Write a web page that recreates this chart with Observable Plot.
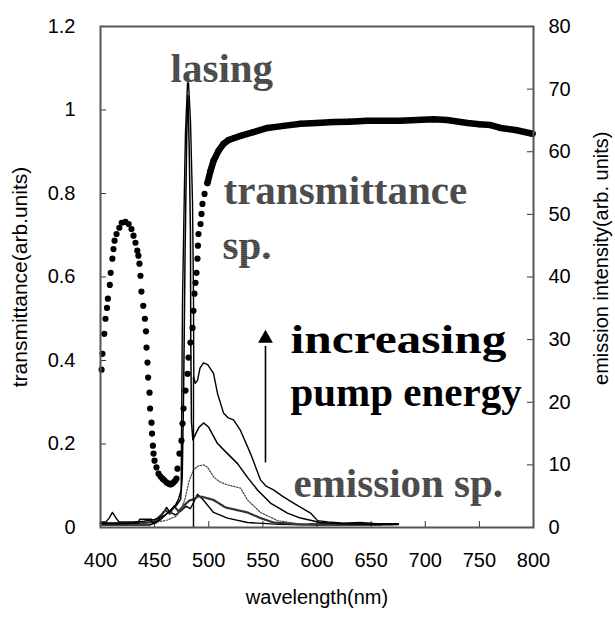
<!DOCTYPE html>
<html><head><meta charset="utf-8">
<script src="https://cdn.jsdelivr.net/npm/d3@7"></script>
<script src="https://cdn.jsdelivr.net/npm/@observablehq/plot@0.6"></script>
<style>html,body{margin:0;padding:0;background:#fff}#chart svg{display:block}</style>
</head><body><div id="chart"></div>
<script>
// ---- axis ticks / labels ----
const wavelengthTicks = [400, 450, 500, 550, 600, 650, 700, 750, 800];
const transTicks = [0, 0.2, 0.4, 0.6, 0.8, 1, 1.2];
const transTickLabels = ["0", "0.2", "0.4", "0.6", "0.8", "1", "1.2"];
const emisTicks = [0, 10, 20, 30, 40, 50, 60, 70, 80];
const emisTickLabels = ["0", "10", "20", "30", "40", "50", "60", "70", "80"];

// ---- transmittance spectrum [nm, transmittance] ----
const transmittance = [
[401.0,0.378],[401.8,0.416],[403.5,0.464],[404.6,0.50],[406.0,0.526],[406.8,0.548],[408.6,0.581],[409.4,0.610],
[411.0,0.644],[412.0,0.667],[413.0,0.687],[414.8,0.703],[417.4,0.718],[419.6,0.730],[423.0,0.732],[426.0,0.727],
[428.6,0.715],[430.5,0.699],[432.3,0.682],[434.0,0.663],[435.0,0.651],[436.0,0.632],[436.9,0.603],[437.8,0.565],
[439.5,0.531],[441.0,0.500],[442.0,0.470],[442.5,0.431],[443.4,0.395],[444.0,0.359],[445.3,0.323],[445.8,0.285],
[447.1,0.251],[447.6,0.225],[448.4,0.196],[449.0,0.177],[449.9,0.160],[451.7,0.144],[453.6,0.129],[455.5,0.122],
[457.3,0.117],[459.0,0.113],[461.0,0.108],[463.0,0.105],[464.7,0.103],[466.0,0.105],[467.4,0.108],[469.0,0.112],
[470.2,0.117],[471.1,0.141],[472.9,0.177],[474.8,0.208],[475.8,0.249],[476.7,0.285],[478.5,0.328],[480.4,0.368],
[481.3,0.407],[483.1,0.443],[485.0,0.478],[485.9,0.519],[486.8,0.560],[487.8,0.586],[488.7,0.610],[489.6,0.644],
[490.0,0.675],[490.5,0.703],[492.4,0.727],[493.3,0.751],[494.2,0.775],[496.1,0.799],[498.8,0.825],[501.6,0.854],
[504.4,0.878],[509.0,0.902],[513.6,0.919],[518.2,0.928],[523.7,0.933],[529.3,0.938],[541.3,0.947],[554.3,0.957],
[569.1,0.962],[584.8,0.967],[600,0.969],[615.2,0.971],[630,0.972],[646.7,0.974],[662,0.974],[677.1,0.974],
[692,0.976],[707.6,0.978],[720,0.976],[739.0,0.969],[750,0.966],[760.3,0.964],[769.5,0.957],[783.4,0.952],[799.1,0.943]
];

// ---- emission spectra [nm, intensity (arb. units)], increasing pump energy ----
const emissionLasing = [
[400,0.9],[405,0.9],[408,1.5],[411,2.4],[414,1.6],[417,0.9],[430,0.9],[440,1.0],[450,1.3],[458,1.8],[464,2.6],
[469,3.5],[472,4.5],[474.5,6],[475.75,36],[477.6,55],[478.5,63],[480.4,71],[481.3,71],[483.1,65],
[485,52],[485.9,37],[486.2,24],[487.5,23],[489.6,23.5],[492,25.5],[495.2,26.3],[499,26],[504.4,24.6],[508.1,21.4],
[513.6,18.3],[518,17.5],[522.9,17.2],[529.3,15.5],[538.6,11.8],[547.8,7.6],[553,6.6],[559.8,6.0],[568,5],[578.3,3.9],
[594,2.3],[600.5,1.1],[610,0.9],[625,0.7],[640,0.8],[655,0.6],[675,0.6]
];
const emissionLasingEdge = [[485.9,24],[485.9,0]];
const emission2 = [
[400,0.6],[420,0.6],[435,0.7],[436,1.3],[447,1.3],[448,0.7],[455,1.2],[460,2],[466,3],[470,3.5],[474,4.5],[475.5,8],
[476.8,22],[478.2,45],[479.8,64],[480.8,69],[482,60],[483.1,47],[483.4,30],[484,17],[485.3,14],[488,15],[491,16],[495.2,16.7],
[500,16],[508.1,13.4],[517.3,11.8],[526.6,10.2],[535.8,8.0],[545,6.0],[557,3.9],[572.7,2.3],[584.8,1.5],[603,0.8],
[620,0.6],[650,0.5],[675,0.5]
];
const emission3 = [
[400,0.5],[430,0.5],[450,0.8],[462,1.2],[470,1.8],[474,2.7],[478,4.5],[482,7.5],[485.9,9.2],[490,9.8],[495.2,10.0],
[499,9.6],[504.4,8.1],[510,7.3],[517.3,6.8],[529.3,6.3],[535.8,4.4],[547.8,2.4],[563.5,1.1],[585,0.5],[620,0.4],[670,0.4]
];
const emission4 = [
[400,0.7],[440,0.7],[450,1.0],[456,2.0],[460,2.8],[464,2.2],[468,3.4],[472,2.6],[477,3.5],[482,4.3],[486,4.5],
[490.5,5.0],[496,4.8],[504.4,4.4],[515.5,3.2],[535.8,2.4],[547.8,1.5],[559.8,0.8],[585,0.5],[620,0.6],[650,0.5],[675,0.5]
];
const emission5 = [
[400,0.4],[445,0.4],[452,0.8],[457,2.0],[461,3.2],[464,2.5],[469,2.0],[474,2.6],[479,3.4],[483,3.0],[486,4.0],
[489.6,5.3],[495,4.4],[504.4,2.4],[517.3,1.5],[535.8,0.8],[565,0.5],[600,0.4],[660,0.4]
];

// ---- annotations (data coordinates: nm, transmittance units) ----
const grayLabels = [
  {text: "lasing", x: 464.7, y: 1.066},
  {text: "transmittance", x: 513.6, y: 0.776},
  {text: "sp.", x: 512.7, y: 0.644},
  {text: "emission sp.", x: 578.3, y: 0.072}
];
const blackLabels = [
  {text: "increasing", x: 575.5, y: 0.419},
  {text: "pump energy", x: 575.5, y: 0.292}
];
const arrowData = {x: 552.4, from: 10.4, to: 29, head: 30.2}; // emission units

const W = 615, H = 622, mL = 100, mR = 82, mT = 26, mB = 95;
const k = 1.2 / 80; // emission units -> transmittance units
const innerW = W - mL - mR, innerH = H - mT - mB;
const transLabel = new Map(transTicks.map((t, i) => [t, transTickLabels[i]]));
const emisScaled = emisTicks.map(v => v * k);
const emisLabel = new Map(emisScaled.map((t, i) => [t, emisTickLabels[i]]));
const denseTrans = transmittance.filter(d => d[0] >= 498);

const serif = "'Liberation Serif', 'Times New Roman', serif";

const chart = Plot.plot({
  width: W, height: H,
  marginLeft: mL, marginRight: mR, marginTop: mT, marginBottom: mB,
  x: {domain: [400, 800]},
  y: {domain: [0, 1.2]},
  style: {fontFamily: "'Liberation Sans', Arial, sans-serif", fontSize: "20px", background: "#fff", color: "#000"},
  marks: [
    // inward ticks
    Plot.tickY(transTicks.slice(1, -1), {y: d => d, insetRight: innerW - 6, stroke: "#333"}),
    Plot.tickY(emisScaled.slice(1, -1), {y: d => d, insetLeft: innerW - 6, stroke: "#333"}),
    Plot.tickX(wavelengthTicks.slice(1, -1), {x: d => d, insetTop: innerH - 6, stroke: "#333"}),
    // axes
    Plot.axisY({anchor: "left", ticks: transTicks, tickFormat: d => transLabel.get(d), tickSize: 0, tickPadding: 25, label: null, fontSize: 20}),
    Plot.axisY({anchor: "right", ticks: emisScaled, tickFormat: d => emisLabel.get(d), tickSize: 0, tickPadding: 15, label: null, fontSize: 20}),
    Plot.axisX({ticks: wavelengthTicks, tickSize: 0, tickPadding: 25, label: null, fontSize: 20}),
    Plot.text(["wavelength(nm)"], {frameAnchor: "bottom", dy: 76, fontSize: 20}),
    Plot.text([{t: "transmittance(arb.units)", y: 0.6}], {text: "t", y: "y", frameAnchor: "left", dx: -80, rotate: -90, textAnchor: "middle", fontSize: 21}),
    Plot.text([{t: "emission intensity(arb. units)", y: 0.645}], {text: "t", y: "y", frameAnchor: "right", dx: 68, rotate: -90, textAnchor: "middle", fontSize: 20}),
    // emission spectra
    Plot.line(emission5, {x: d => d[0], y: d => d[1] * k, stroke: "#000", strokeWidth: 1.4}),
    Plot.line(emission4, {x: d => d[0], y: d => d[1] * k, stroke: "#333", strokeWidth: 2.2, strokeDasharray: "2,1"}),
    Plot.line(emission3, {x: d => d[0], y: d => d[1] * k, stroke: "#444", strokeWidth: 1.2, strokeDasharray: "1.5,1.5"}),
    Plot.line(emission2, {x: d => d[0], y: d => d[1] * k, stroke: "#000", strokeWidth: 1.5}),
    Plot.line(emissionLasing, {x: d => d[0], y: d => d[1] * k, stroke: "#000", strokeWidth: 1.4}),
    Plot.line(emissionLasingEdge, {x: d => d[0], y: d => d[1] * k, stroke: "#000", strokeWidth: 1.4}),
    // transmittance spectrum
    Plot.line(denseTrans, {x: d => d[0], y: d => d[1], stroke: "#000", strokeWidth: 6.5, strokeLinecap: "round", strokeLinejoin: "round"}),
    Plot.dot(transmittance, {x: d => d[0], y: d => d[1], r: 3.1, fill: "#000", stroke: null}),
    // arrow
    Plot.link([arrowData], {x1: "x", x2: "x", y1: d => d.from * k, y2: d => d.to * k, stroke: "#000", strokeWidth: 1.6}),
    Plot.dot([arrowData], {x: "x", y: d => d.head * k, symbol: "triangle", r: 5.5, fill: "#000", stroke: null}),
    // labels
    Plot.text(grayLabels, {x: "x", y: "y", text: "text", textAnchor: "start", lineAnchor: "bottom", fontFamily: serif, fontWeight: "bold", fontSize: 41, fill: "url(#dither)"}),
    Plot.text(blackLabels, {x: "x", y: "y", text: "text", textAnchor: "start", lineAnchor: "bottom", fontFamily: serif, fontWeight: "bold", fontSize: 41, fill: "#000"}),
    Plot.frame({stroke: "#555", strokeWidth: 2})
  ]
});
// dithered halftone fill like the scanned original
const ns = "http://www.w3.org/2000/svg";
const defs = document.createElementNS(ns, "defs");
defs.innerHTML = '<pattern id="dither" width="2" height="2" patternUnits="userSpaceOnUse"><rect width="2" height="2" fill="#111"/><rect width="1" height="1" fill="#fff"/></pattern>';
chart.insertBefore(defs, chart.firstChild);
chart.querySelectorAll("text").forEach(t => {
  if (t.textContent === "increasing") {
    t.setAttribute("textLength", "216");
    t.setAttribute("lengthAdjust", "spacingAndGlyphs");
  }
});
document.getElementById("chart").appendChild(chart);
</script>
</body></html>
